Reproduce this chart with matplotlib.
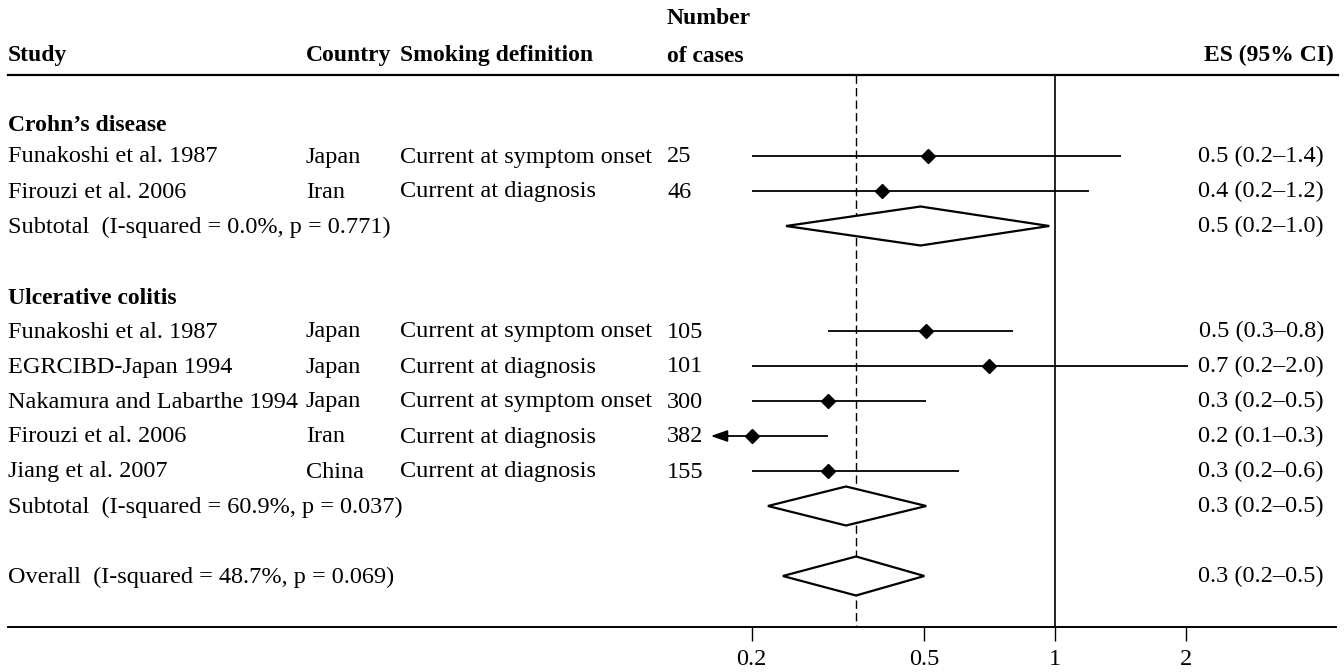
import numpy as np
import matplotlib
matplotlib.use("Agg")
import matplotlib.pyplot as plt
from matplotlib.patches import Polygon
from matplotlib.transforms import blended_transform_factory

plt.rcParams['font.family'] = ['Liberation Serif', 'DejaVu Serif']

# ---- data ----
groups = ["Crohn\u2019s disease", "Ulcerative colitis"]

cd_studies = ["Funakoshi et al. 1987", "Firouzi et al. 2006"]
cd_country = ["Japan", "Iran"]
cd_smoking = ["Current at symptom onset", "Current at diagnosis"]
cd_cases = ["25", "46"]
cd_es = [0.51, 0.40]
cd_lo = [0.20, 0.20]
cd_hi = [1.42, 1.20]
cd_text = ["0.5 (0.2\u20131.4)", "0.4 (0.2\u20131.2)"]
cd_sub = (0.49, 0.24, 0.97)
cd_sub_label = "Subtotal  (I-squared = 0.0%, p = 0.771)"
cd_sub_text = "0.5 (0.2\u20131.0)"

uc_studies = ["Funakoshi et al. 1987", "EGRCIBD-Japan 1994", "Nakamura and Labarthe 1994",
              "Firouzi et al. 2006", "Jiang et al. 2007"]
uc_country = ["Japan", "Japan", "Japan", "Iran", "China"]
uc_smoking = ["Current at symptom onset", "Current at diagnosis", "Current at symptom onset",
              "Current at diagnosis", "Current at diagnosis"]
uc_cases = ["105", "101", "300", "382", "155"]
uc_es = [0.505, 0.705, 0.30, 0.20, 0.30]
uc_lo = [0.30, 0.20, 0.20, 0.10, 0.20]
uc_hi = [0.80, 2.03, 0.505, 0.30, 0.60]
uc_text = ["0.5 (0.3\u20130.8)", "0.7 (0.2\u20132.0)", "0.3 (0.2\u20130.5)",
           "0.2 (0.1\u20130.3)", "0.3 (0.2\u20130.6)"]
uc_sub = (0.33, 0.218, 0.505)
uc_sub_label = "Subtotal  (I-squared = 60.9%, p = 0.037)"
uc_sub_text = "0.3 (0.2\u20130.5)"

overall = (0.348, 0.236, 0.50)
overall_label = "Overall  (I-squared = 48.7%, p = 0.069)"
overall_text = "0.3 (0.2\u20130.5)"

xticks = [0.2, 0.5, 1, 2]
xticklabels = ["0.2", "0.5", "1", "2"]
x_clip = 0.161  # left end of the CI scale, lower limits beyond get an arrow

# ---- layout (pixels of a 1344x672 canvas) ----
W, H = 1344, 672
ROW0, ROWH = 121, 35.0
X1PIX, DEC = 1055, 434.0
FS = 17.5
FSB = 17
BASE = 6.5 / ROWH  # baseline sits a bit below the row centre


def yrow(px):
    return (px - ROW0) / ROWH


def xval(px):
    return 10 ** ((px - X1PIX) / DEC)


fig = plt.figure(figsize=(W / 100, H / 100), dpi=100)
left_px, right_px, bottom_px = 8, 1336, 627
ax = fig.add_axes([left_px / W, (H - bottom_px) / H, (right_px - left_px) / W, bottom_px / H])
ax.set_xscale('log')
ax.set_xlim(xval(left_px), xval(right_px))
ax.set_ylim(yrow(bottom_px), yrow(0))
for s in ['top', 'left', 'right']:
    ax.spines[s].set_visible(False)
ax.spines['bottom'].set_linewidth(1.4)
ax.set_yticks([])
ax.set_xticks(xticks)
ax.set_xticklabels(xticklabels, fontsize=FS)
ax.xaxis.set_minor_locator(plt.NullLocator())
ax.tick_params(axis='x', direction='out', length=10, width=1.0, pad=6)
ax.patch.set_visible(False)

tr = blended_transform_factory(fig.transFigure, ax.transData)


def put(xpix, y, s, bold=False, ha='left'):
    ax.text(xpix / W, y + BASE, s, transform=tr, fontsize=FSB if bold else FS,
            fontweight='bold' if bold else 'normal', va='baseline', ha=ha)


col_study, col_country, col_smoke, col_cases, col_es = 8, 306, 400, 667, 1324

# headers
y_head = yrow(55)
put(col_study, y_head, "Study", bold=True)
put(col_country, y_head, "Country", bold=True)
put(col_smoke, y_head, "Smoking definition", bold=True)
put(col_cases, yrow(18), "Number", bold=True)
put(col_cases, y_head, "of cases", bold=True)
put(1334, y_head, "ES (95% CI)", bold=True, ha='right')

y_top = yrow(75)
ax.plot([left_px / W, 1338 / W], [y_top, y_top], transform=tr, color='k', lw=1.6, clip_on=False)

# reference lines
ax.vlines(1, y_top, yrow(bottom_px), color='k', lw=1.2)
ax.vlines(overall[0], y_top, yrow(bottom_px), color='k', lw=1.0, linestyles=(0, (6, 3)))


def study_rows(start, names, country, smoking, cases, es, lo, hi, texts):
    for k in range(len(names)):
        y = start + k
        put(col_study, y, names[k])
        put(col_country, y, country[k])
        put(col_smoke, y, smoking[k])
        put(col_cases, y, cases[k])
        put(col_es, y, texts[k], ha='right')
        if lo[k] < x_clip:
            ax.hlines(y, es[k], hi[k], color='k', lw=1.3)
            ax.annotate('', xy=(x_clip, y), xytext=(es[k], y),
                        arrowprops=dict(arrowstyle='-|>,head_length=1.0,head_width=0.35',
                                        color='k', lw=1.3, shrinkA=0, shrinkB=0))
        else:
            ax.hlines(y, lo[k], hi[k], color='k', lw=1.3)
        ax.plot(es[k], y, 'D', ms=7, color='k', zorder=5)


def pooled(y, stats, label, text):
    est, lo, hi = stats
    h = 19.5 / ROWH
    ax.add_patch(Polygon([(lo, y), (est, y - h), (hi, y), (est, y + h)], closed=True,
                         facecolor='white', edgecolor='k', lw=1.6, zorder=4))
    put(col_study, y, label)
    put(col_es, y, text, ha='right')


put(col_study, 0.1, groups[0], bold=True)
study_rows(1, cd_studies, cd_country, cd_smoking, cd_cases, cd_es, cd_lo, cd_hi, cd_text)
pooled(1 + len(cd_studies), cd_sub, cd_sub_label, cd_sub_text)

uc_start = 3 + len(cd_studies)
put(col_study, uc_start + 0.05, groups[1], bold=True)
study_rows(uc_start + 1, uc_studies, uc_country, uc_smoking, uc_cases, uc_es, uc_lo, uc_hi, uc_text)
pooled(uc_start + 1 + len(uc_studies), uc_sub, uc_sub_label, uc_sub_text)
pooled(uc_start + 3 + len(uc_studies), overall, overall_label, overall_text)

fig.savefig("out.png", dpi=100)
